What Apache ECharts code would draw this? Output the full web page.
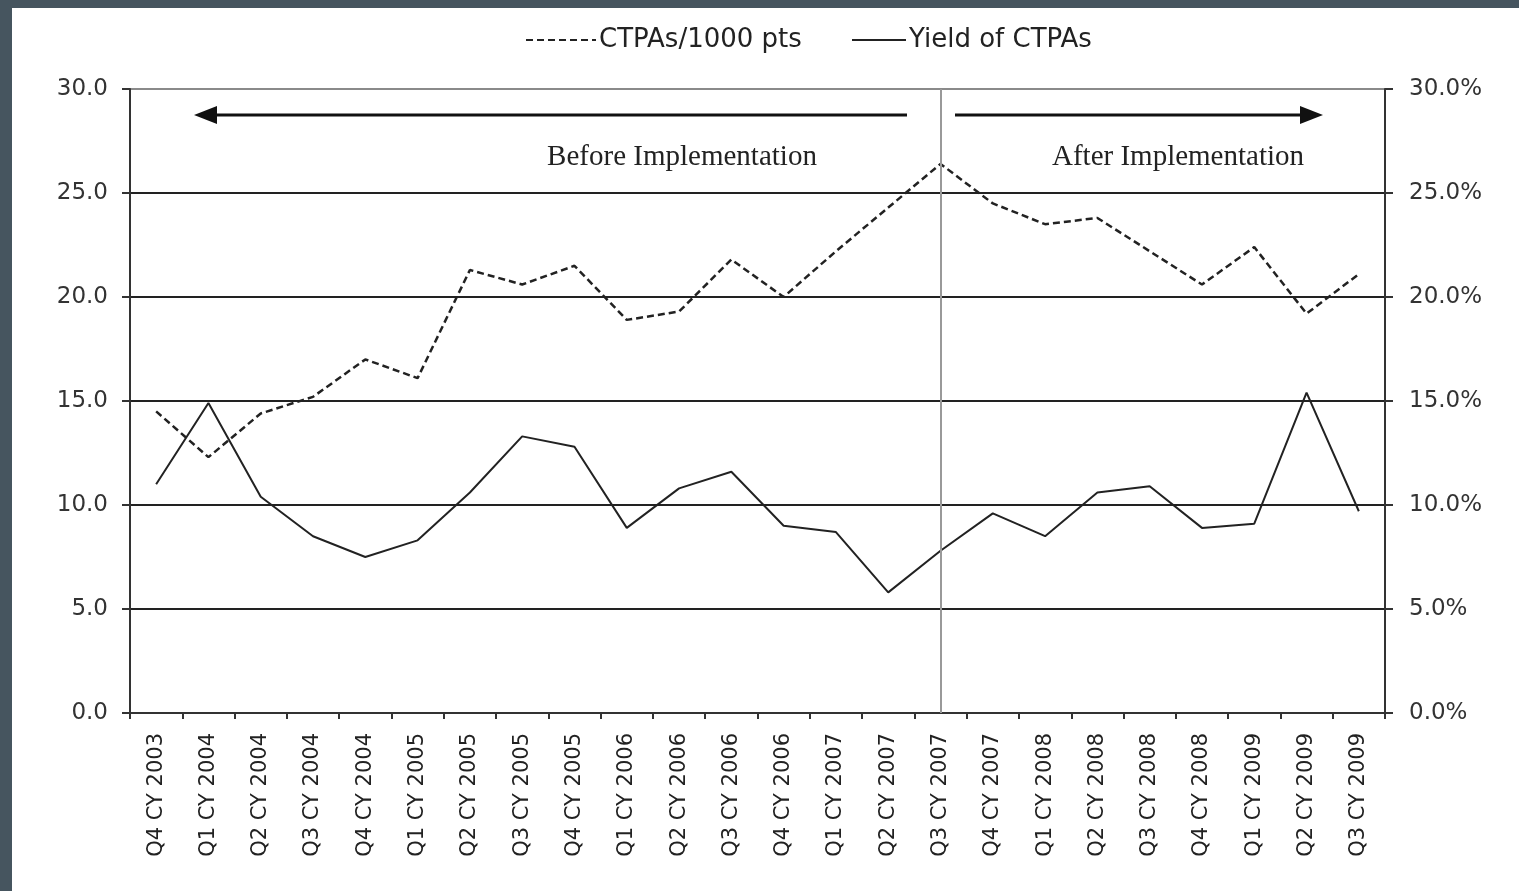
<!DOCTYPE html>
<html lang="en">
<head>
  <meta charset="UTF-8">
  <title>CTPAs chart</title>
  <script src="https://cdn.jsdelivr.net/npm/echarts@6/dist/echarts.min.js"></script>
  <style>
    body { margin: 0; background: #fff; overflow: hidden; }
    #chart { width: 1519px; height: 891px; }
  </style>
</head>
<body>
  <div id="chart"></div>
  <script>
    // quarters on the x axis
    const quarters = [
      'Q4 CY 2003', 'Q1 CY 2004', 'Q2 CY 2004', 'Q3 CY 2004', 'Q4 CY 2004',
      'Q1 CY 2005', 'Q2 CY 2005', 'Q3 CY 2005', 'Q4 CY 2005', 'Q1 CY 2006',
      'Q2 CY 2006', 'Q3 CY 2006', 'Q4 CY 2006', 'Q1 CY 2007', 'Q2 CY 2007',
      'Q3 CY 2007', 'Q4 CY 2007', 'Q1 CY 2008', 'Q2 CY 2008', 'Q3 CY 2008',
      'Q4 CY 2008', 'Q1 CY 2009', 'Q2 CY 2009', 'Q3 CY 2009'
    ];
    // CTPAs per 1000 patients (left axis)
    const ctpaRate = [
      14.5, 12.3, 14.4, 15.2, 17.0, 16.1, 21.3, 20.6, 21.5, 18.9,
      19.3, 21.8, 20.0, 22.2, 24.3, 26.4, 24.5, 23.5, 23.8, 22.2,
      20.6, 22.4, 19.2, 21.1
    ];
    // yield of CTPAs in % (right axis)
    const ctpaYield = [
      11.0, 14.9, 10.4, 8.5, 7.5, 8.3, 10.6, 13.3, 12.8, 8.9,
      10.8, 11.6, 9.0, 8.7, 5.8, 7.8, 9.6, 8.5, 10.6, 10.9,
      8.9, 9.1, 15.4, 9.7
    ];
    const implementedAt = 'Q3 CY 2007';
    const seriesNames = ['CTPAs/1000 pts', 'Yield of CTPAs'];

    const chart = echarts.init(document.getElementById('chart'));
    const sans = 'DejaVu Sans';
    const serif = 'Liberation Serif';

    // one legend per series so the key lines can differ in length
    function legendFor(name, left, width) {
      return {
        left: left,
        top: 22,
        itemWidth: width,
        itemHeight: 14,
        itemGap: 6,
        itemStyle: { opacity: 0 },
        textStyle: { fontFamily: sans, fontSize: 26, color: '#222', padding: [0, 0, 0, -2] },
        data: [name]
      };
    }

    chart.setOption({
      animation: false,
      backgroundColor: '#fff',
      legend: [
        legendFor(seriesNames[0], 520, 70),
        legendFor(seriesNames[1], 846, 54)
      ],
      grid: { left: 130, right: 134, top: 89, bottom: 178 },
      xAxis: {
        type: 'category',
        data: quarters,
        boundaryGap: true,
        axisLine: { lineStyle: { color: '#333', width: 2 } },
        axisTick: { show: true, length: 6, lineStyle: { color: '#333', width: 2 } },
        axisLabel: {
          rotate: 90,
          interval: 0,
          margin: 20,
          fontFamily: sans,
          fontSize: 21,
          color: '#222'
        }
      },
      yAxis: [
        {
          type: 'value',
          min: 0, max: 30, interval: 5,
          axisLine: { show: true, lineStyle: { color: '#333', width: 2 } },
          axisTick: { show: true, length: 8, lineStyle: { color: '#333', width: 2 } },
          axisLabel: {
            margin: 22,
            fontFamily: sans, fontSize: 23, color: '#333',
            formatter: v => v.toFixed(1)
          },
          splitLine: {
            lineStyle: {
              color: ['#222', '#222', '#222', '#222', '#222', '#222', '#8a8a8a'],
              width: 2
            }
          }
        },
        {
          type: 'value',
          min: 0, max: 30, interval: 5,
          position: 'right',
          axisLine: { show: true, lineStyle: { color: '#333', width: 2 } },
          axisTick: { show: true, length: 8, lineStyle: { color: '#333', width: 2 } },
          axisLabel: {
            margin: 24,
            fontFamily: sans, fontSize: 23, color: '#333',
            formatter: v => v.toFixed(1) + '%'
          },
          splitLine: { show: false }
        }
      ],
      series: [
        {
          name: seriesNames[0],
          type: 'line',
          yAxisIndex: 0,
          data: ctpaRate,
          symbol: 'none',
          color: '#222',
          lineStyle: { color: '#222', width: 2.5, type: [7, 4] },
          markLine: {
            silent: true,
            symbol: 'none',
            label: { show: false },
            lineStyle: { color: '#999', width: 2, type: 'solid' },
            data: [{ xAxis: implementedAt }]
          },
          z: 3
        },
        {
          name: seriesNames[1],
          type: 'line',
          yAxisIndex: 1,
          data: ctpaYield,
          symbol: 'none',
          color: '#222',
          lineStyle: { color: '#222', width: 2 },
          z: 3
        }
      ],
      graphic: [
        // frame
        { type: 'rect', shape: { x: 0, y: 0, width: 1519, height: 8 }, style: { fill: '#46555f' } },
        { type: 'rect', shape: { x: 0, y: 0, width: 12, height: 891 }, style: { fill: '#46555f' } },
        // before arrow
        { type: 'line', shape: { x1: 212, y1: 115, x2: 907, y2: 115 }, style: { stroke: '#111', lineWidth: 3 } },
        { type: 'polygon', shape: { points: [[194, 115], [217, 106], [217, 124]] }, style: { fill: '#111' } },
        // after arrow
        { type: 'line', shape: { x1: 955, y1: 115, x2: 1305, y2: 115 }, style: { stroke: '#111', lineWidth: 3 } },
        { type: 'polygon', shape: { points: [[1323, 115], [1300, 106], [1300, 124]] }, style: { fill: '#111' } },
        {
          type: 'text', x: 682, y: 157,
          style: {
            text: 'Before Implementation', fontFamily: serif, fontSize: 29,
            fill: '#222', align: 'center', verticalAlign: 'middle'
          }
        },
        {
          type: 'text', x: 1178, y: 157,
          style: {
            text: 'After Implementation', fontFamily: serif, fontSize: 29,
            fill: '#222', align: 'center', verticalAlign: 'middle'
          }
        }
      ]
    });
  </script>
</body>
</html>
